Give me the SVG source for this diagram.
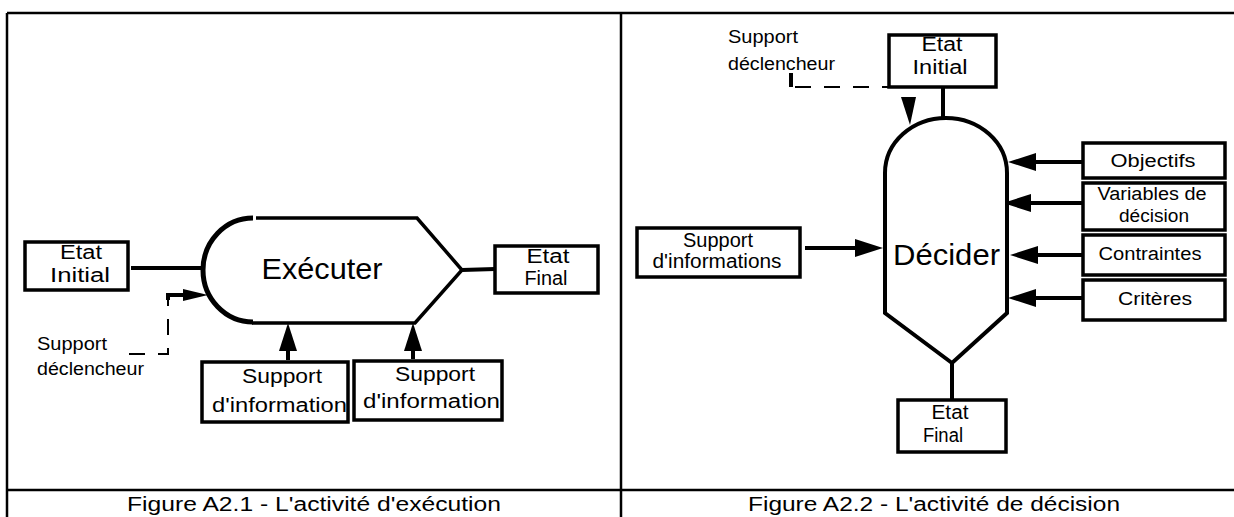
<svg xmlns="http://www.w3.org/2000/svg" width="1234" height="517" viewBox="0 0 1234 517">
<style>
  .frame{stroke:#000;stroke-width:2.5;fill:none}
  .box{fill:#fff;stroke:#000;stroke-width:3.5}
  .shape{fill:#fff;stroke:#000;stroke-width:4}
  .ln{stroke:#000;stroke-width:4;fill:none}
  .dash{stroke:#000;stroke-width:2;fill:none;stroke-dasharray:16 13}
  text{font-family:"Liberation Sans",Arial,sans-serif;fill:#000;lengthAdjust:spacingAndGlyphs}
  .lbl{font-size:20px}
  .sm{font-size:18px}
  .big{font-size:29px}
  .cap{font-size:20px}
</style>
<defs>
  <marker id="ah" markerUnits="userSpaceOnUse" viewBox="0 0 28 18" markerWidth="28" markerHeight="18" refX="0" refY="9" orient="auto">
    <path d="M0,0 L28,9 L0,18 Z" fill="#000"/>
  </marker>
  <marker id="ahs" markerUnits="userSpaceOnUse" viewBox="0 0 25 12" markerWidth="25" markerHeight="12" refX="0" refY="6" orient="auto">
    <path d="M0,0 L25,6 L0,12 Z" fill="#000"/>
  </marker>
</defs>
<rect width="1234" height="517" fill="#fff"/>

<g id="frame">
  <line class="frame" x1="7" y1="13" x2="1234" y2="13"/>
  <line class="frame" x1="7" y1="13" x2="7" y2="517"/>
  <line class="frame" x1="621" y1="13" x2="621" y2="517"/>
  <line class="frame" x1="7" y1="490" x2="1234" y2="490"/>
</g>

<g id="connectors">
  <!-- left figure -->
  <line class="ln" x1="131" y1="268" x2="205" y2="268" stroke-width="3.5"/>
  <line class="ln" x1="462" y1="270" x2="495" y2="269" stroke-width="3.5"/>
  <line class="ln" x1="288" y1="360" x2="288" y2="351" marker-end="url(#ah)"/>
  <line class="ln" x1="413" y1="359" x2="413" y2="351" marker-end="url(#ah)"/>
  <path class="dash" d="M129 354 H168 V300"/>
  <path class="ln" stroke-width="2" d="M168 300 V295 H183" marker-end="url(#ahs)"/>
  <!-- right figure -->
  <line class="ln" x1="943" y1="87" x2="943" y2="118"/>
  <line class="ln" x1="952" y1="363" x2="952" y2="400"/>
  <line class="ln" x1="791" y1="73" x2="791" y2="87" stroke-width="2"/>
  <line class="dash" x1="795" y1="87" x2="889" y2="87" stroke-width="2.5" stroke-dasharray="17 20"/>
  <polygon points="901,97 916,97 910,125" fill="#000"/>
  <line class="ln" x1="805" y1="248" x2="855" y2="248" marker-end="url(#ah)"/>
  <line class="ln" x1="1083" y1="162" x2="1036" y2="162" marker-end="url(#ah)"/>
  <line class="ln" x1="1083" y1="203" x2="1031" y2="203" marker-end="url(#ah)"/>
  <line class="ln" x1="1083" y1="255" x2="1038" y2="255" marker-end="url(#ah)"/>
  <line class="ln" x1="1083" y1="298" x2="1036" y2="298" marker-end="url(#ah)"/>
</g>

<g id="executer">
  <path d="M253 218 A50 52 0 0 0 253 322" fill="none" stroke="#000" stroke-width="5"/>
  <path d="M256 218 H417 L462 270 L415 323 H252" fill="none" stroke="#000" stroke-width="3.5"/>
  <text class="big" x="322" y="279" text-anchor="middle" textLength="121" lengthAdjust="spacingAndGlyphs">Exécuter</text>
</g>

<g id="etat-initial-1">
  <rect class="box" x="25" y="242" width="103" height="48"/>
  <text class="lbl" x="81" y="259" text-anchor="middle" textLength="42" lengthAdjust="spacingAndGlyphs">Etat</text>
  <text class="lbl" x="80" y="282" text-anchor="middle" textLength="60" lengthAdjust="spacingAndGlyphs">Initial</text>
</g>

<g id="etat-final-1">
  <rect class="box" x="495" y="246" width="103" height="47"/>
  <text class="lbl" x="548" y="263" text-anchor="middle" textLength="43" lengthAdjust="spacingAndGlyphs">Etat</text>
  <text class="lbl" x="546" y="285" text-anchor="middle" textLength="43" lengthAdjust="spacingAndGlyphs">Final</text>
</g>

<g id="support-declencheur-1">
  <text class="sm" x="37" y="350" textLength="70" lengthAdjust="spacingAndGlyphs">Support</text>
  <text class="sm" x="37" y="375" textLength="107" lengthAdjust="spacingAndGlyphs">déclencheur</text>
</g>

<g id="support-info-1">
  <rect class="box" x="202" y="362" width="146" height="60"/>
  <text class="lbl" x="282" y="383" text-anchor="middle" textLength="80" lengthAdjust="spacingAndGlyphs">Support</text>
  <text class="lbl" x="212" y="412" textLength="135" lengthAdjust="spacingAndGlyphs">d'information</text>
</g>

<g id="support-info-2">
  <rect class="box" x="354" y="361" width="148" height="59"/>
  <text class="lbl" x="435" y="381" text-anchor="middle" textLength="80" lengthAdjust="spacingAndGlyphs">Support</text>
  <text class="lbl" x="363" y="408" textLength="137" lengthAdjust="spacingAndGlyphs">d'information</text>
</g>

<g id="decider">
  <path class="shape" stroke-width="4.5" d="M885 313 V173 A61 55 0 0 1 1007 173 V313 L952 363 Z"/>
  <text class="big" x="893" y="265" textLength="107" lengthAdjust="spacingAndGlyphs" font-size="30">Décider</text>
</g>

<g id="support-declencheur-2">
  <text class="sm" x="728" y="43" textLength="70" lengthAdjust="spacingAndGlyphs">Support</text>
  <text class="sm" x="728" y="70" textLength="107" lengthAdjust="spacingAndGlyphs">déclencheur</text>
</g>

<g id="etat-initial-2">
  <rect class="box" x="889" y="35" width="107" height="52"/>
  <text class="lbl" x="942" y="51" text-anchor="middle" textLength="41" lengthAdjust="spacingAndGlyphs">Etat</text>
  <text class="lbl" x="940" y="74" text-anchor="middle" textLength="55" lengthAdjust="spacingAndGlyphs">Initial</text>
</g>

<g id="support-informations">
  <rect class="box" x="637" y="228" width="163" height="49"/>
  <text class="lbl" x="718" y="247" text-anchor="middle" textLength="70" lengthAdjust="spacingAndGlyphs">Support</text>
  <text class="lbl" x="717" y="268" text-anchor="middle" textLength="129" lengthAdjust="spacingAndGlyphs">d'informations</text>
</g>

<g id="objectifs">
  <rect class="box" x="1083" y="143" width="142" height="35"/>
  <text class="sm" x="1153" y="167" text-anchor="middle" textLength="85" lengthAdjust="spacingAndGlyphs">Objectifs</text>
</g>

<g id="variables">
  <rect class="box" x="1083" y="183" width="142" height="47"/>
  <text class="sm" x="1152" y="200" text-anchor="middle" textLength="109" lengthAdjust="spacingAndGlyphs">Variables de</text>
  <text class="sm" x="1154" y="222" text-anchor="middle" textLength="70" lengthAdjust="spacingAndGlyphs">décision</text>
</g>

<g id="contraintes">
  <rect class="box" x="1083" y="235" width="142" height="40"/>
  <text class="sm" x="1150" y="260" text-anchor="middle" textLength="103" lengthAdjust="spacingAndGlyphs">Contraintes</text>
</g>

<g id="criteres">
  <rect class="box" x="1083" y="280" width="142" height="40"/>
  <text class="sm" x="1155" y="305" text-anchor="middle" textLength="74" lengthAdjust="spacingAndGlyphs">Critères</text>
</g>

<g id="etat-final-2">
  <rect class="box" x="898" y="400" width="108" height="52"/>
  <text class="lbl" x="950" y="419" text-anchor="middle" textLength="37" lengthAdjust="spacingAndGlyphs">Etat</text>
  <text class="lbl" x="923" y="442" textLength="40" lengthAdjust="spacingAndGlyphs">Final</text>
</g>

<g id="captions">
  <text class="cap" x="314" y="511" text-anchor="middle" textLength="374" lengthAdjust="spacingAndGlyphs">Figure A2.1 - L'activité d'exécution</text>
  <text class="cap" x="934" y="511" text-anchor="middle" textLength="372" lengthAdjust="spacingAndGlyphs">Figure A2.2 - L'activité de décision</text>
</g>
</svg>
